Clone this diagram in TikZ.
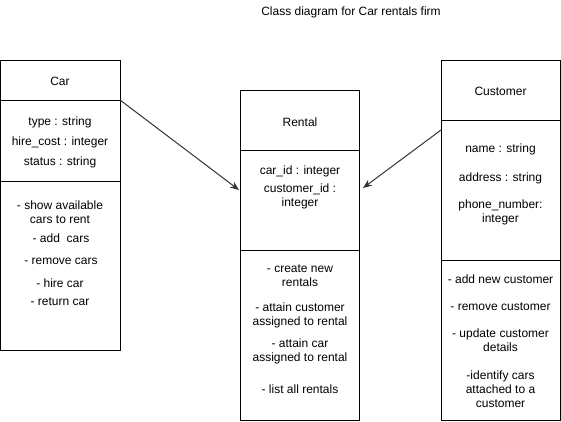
\documentclass[tikz,border=0pt]{standalone}
\usepackage{fontspec}
\setmainfont{Liberation Sans}
\usetikzlibrary{arrows.meta}
\begin{document}
\begin{tikzpicture}[x=1pt,y=-1pt,
  part/.style={draw=black, line width=1pt, inner sep=0pt, outer sep=0pt, anchor=north west},
  txt/.style={font=\fontsize{12}{14}\selectfont, align=center, inner sep=0pt, yshift=-0.8pt},
  assoc/.style={draw=black!80, line width=1pt, -{Stealth[length=9pt,width=7pt]}}]
\useasboundingbox (0,0) rectangle (561,421);
% title
\node[txt] (title) at (351,12) {Class diagram for Car rentals firm};
% Car class
\node[part, minimum width=120pt, minimum height=40pt] (carName) at (0,60) {};
\node[part, minimum width=120pt, minimum height=81pt] (carAttr) at (0,100) {};
\node[part, minimum width=120pt, minimum height=169pt] (carOps) at (0,181) {};
\node[txt] (carT) at (60,81) {Car};
\node[txt] (carA1) at (60,122) {type : string};
\node[txt] (carA2) at (60,142) {hire\_cost : integer};
\node[txt] (carA3) at (60,162) {status : string};
\node[txt] (carM1) at (60,211) {- show available\\cars to rent};
\node[txt] (carM2) at (61,237) {- add~~cars};
\node[txt] (carM3) at (61,261) {- remove cars};
\node[txt] (carM4) at (60,282) {- hire car};
\node[txt] (carM5) at (60,301) {- return car};
% Rental class
\node[part, minimum width=119pt, minimum height=60pt] (rentName) at (240,90) {};
\node[part, minimum width=119pt, minimum height=100pt] (rentAttr) at (240,150) {};
\node[part, minimum width=119pt, minimum height=170pt] (rentOps) at (240,250) {};
\node[txt] (rentT) at (300,121) {Rental};
\node[txt] (rentA1) at (300,171) {car\_id : integer};
\node[txt] (rentA2) at (300,195.5) {customer\_id :\\integer};
\node[txt] (rentM1) at (300,274.5) {- create new\\rentals};
\node[txt] (rentM2) at (300,314.5) {- attain customer\\assigned to rental};
\node[txt] (rentM3) at (300,351) {- attain car\\assigned to rental};
\node[txt] (rentM4) at (300,388) {- list all rentals};
% Customer class
\node[part, minimum width=119pt, minimum height=60pt] (custName) at (441,60) {};
\node[part, minimum width=119pt, minimum height=140pt] (custAttr) at (441,120) {};
\node[part, minimum width=119pt, minimum height=160pt] (custOps) at (441,260) {};
\node[txt] (custT) at (500.5,91) {Customer};
\node[txt] (custA1) at (500.5,149) {name : string};
\node[txt] (custA2) at (500.5,178) {address : string};
\node[txt] (custA3) at (500.5,211.5) {phone\_number:\\integer};
\node[txt] (custM1) at (500.5,278) {- add new customer};
\node[txt] (custM2) at (500.5,306) {- remove customer};
\node[txt] (custM3) at (500.5,339.5) {- update customer\\details};
\node[txt] (custM4) at (500.5,388) {-identify cars\\attached to a\\customer};
% connectors
\coordinate (e1) at ([xshift=-1pt,yshift=10pt]rentAttr.west);
\coordinate (s2) at ([yshift=-10pt]custAttr.north west);
\coordinate (e2) at ([xshift=4pt,yshift=12pt]rentAttr.east);
\draw[assoc] (carAttr.north east) -- (e1);
\draw[assoc] (s2) -- (e2);
\end{tikzpicture}
\end{document}
